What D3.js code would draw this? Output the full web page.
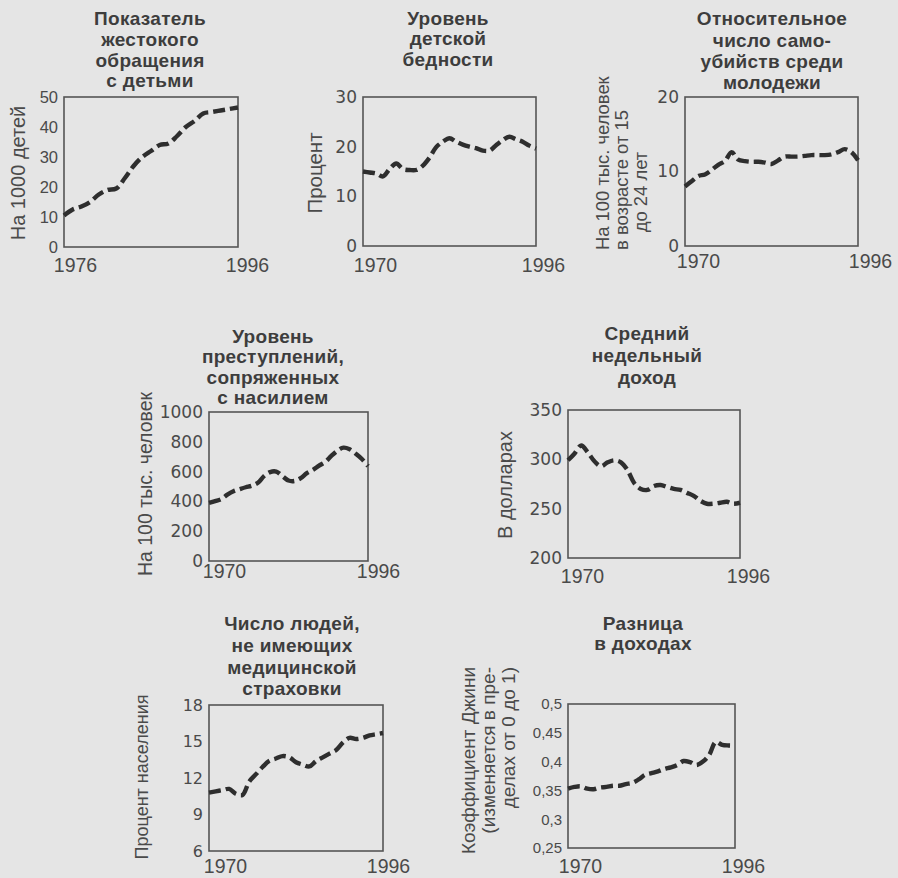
<!DOCTYPE html>
<html>
<head>
<meta charset="utf-8">
<script src="https://cdn.jsdelivr.net/npm/d3@7"></script>
<style>
  html, body { margin: 0; padding: 0; background: #e5e5e5; }
  svg { display: block; }
  text { font-family: "Liberation Sans", Arial, sans-serif; }
</style>
</head>
<body>
<svg id="chart" width="898" height="878"></svg>
<script>
// ---------- DATA ----------
const years70 = [1970,1971,1972,1973,1974,1975,1976,1977,1978,1979,1980,1981,1982,1983,1984,1985,1986,1987,1988,1989,1990,1991,1992,1993,1994,1995,1996];
const years76 = [1976,1977,1978,1979,1980,1981,1982,1983,1984,1985,1986,1987,1988,1989,1990,1991,1992,1993,1994,1995,1996];

const abuseRate   = [10.5,12.5,13.5,15,17.5,19,19.5,23,27,30,32,34,34.5,37,40,42,44.5,45,45.5,46,46.5];
const povertyRate = [15,14.8,14.6,14,15.5,16.6,15.5,15.3,15.3,16.2,17.8,19.9,21,21.7,21,20.4,20,19.7,19.2,19.2,20.3,21.3,22,21.5,21,20.2,19.6];
const suicideRate = [8,8.7,9.4,9.6,10.2,10.9,11.4,12.6,11.6,11.4,11.3,11.3,11.2,11,11.5,12,12,12,12.1,12.2,12.2,12.2,12.3,12.6,13,12.6,11.5];
const crimeRate   = [390,402,415,445,468,482,495,505,525,570,597,600,570,540,537,556,590,612,640,665,705,740,761,750,720,685,637];
const weeklyIncome= [299,306,314,307,298,293,297,299,297,289,276,270,269,273,274,272,270,269,266,263,258,255,255,256,257,255,256];
const uninsured   = [10.8,10.9,11.0,11.1,10.7,10.6,11.7,12.3,12.9,13.4,13.6,13.8,13.7,13.3,13.1,12.95,13.4,13.7,14.0,14.3,14.9,15.3,15.2,15.3,15.5,15.6,15.7];
const giniIndex   = [0.353,0.356,0.357,0.353,0.352,0.355,0.356,0.358,0.358,0.361,0.363,0.369,0.377,0.380,0.383,0.387,0.390,0.394,0.401,0.399,0.394,0.400,0.412,0.434,0.429,0.428,0.428];

const titles = [
  ["Показатель","жестокого","обращения","с детьми"],
  ["Уровень","детской","бедности"],
  ["Относительное","число само-","убийств среди","молодежи"],
  ["Уровень","преступлений,","сопряженных","с насилием"],
  ["Средний","недельный","доход"],
  ["Число людей,","не имеющих","медицинской","страховки"],
  ["Разница","в доходах"]
];
const yLabels = [
  ["На 1000 детей"],
  ["Процент"],
  ["На 100 тыс. человек","в возрасте от 15","до 24 лет"],
  ["На 100 тыс. человек"],
  ["В долларах"],
  ["Процент населения"],
  ["Коэффициент Джини","(изменяется в пре-","делах от 0 до 1)"]
];
const yTicks = [
  [0,10,20,30,40,50],
  [0,10,20,30],
  [0,10,20],
  [0,200,400,600,800,1000],
  [200,250,300,350],
  [6,9,12,15,18],
  [0.25,0.3,0.35,0.4,0.45,0.5]
];
const yDomains = [[0,50],[0,30],[0,20],[0,1000],[200,350],[6,18],[0.25,0.5]];
const seriesYears = [years76, years70, years70, years70, years70, years70, years70];
const seriesValues = [abuseRate, povertyRate, suicideRate, crimeRate, weeklyIncome, uninsured, giniIndex];

// ---------- LAYOUT ----------
// box: [left,right,top,bottom]; tcx/tcy: title centre; yl: rotated label [x,y,anchor];
// xl: [dx first, dx last, baseline]; tf: tick font [family,size]; lf: y-label font size
const layout = [
  {box:[64,238,97,247],  tcx:150, tcy:[18,39,60,80.5],  yl:[[18,173,"middle"]], xl:[11,9,271.5], tf:["Liberation Sans",16.5], lf:20},
  {box:[363,536,97,246], tcx:448, tcy:[18,38.5,59],     yl:[[315,173,"middle"]], xl:[12,7,271.5], tf:["DejaVu Sans",17], lf:20.5},
  {box:[685,858,97,246], tcx:772, tcy:[18,40,61.5,82],  yl:[[602,250,"start"],[621,250,"start"],[640,192,"middle"]], xl:[13,12,268], tf:["DejaVu Sans",17], lf:18.4},
  {box:[209,368,412,561],tcx:273, tcy:[336,356.5,377,397], yl:[[145,484,"middle"]], xl:[15,10,578], tf:["DejaVu Sans",17], lf:19.5},
  {box:[568,740,410,558],tcx:647, tcy:[333,355,377],    yl:[[505,485,"middle"]], xl:[14,8,583], tf:["DejaVu Sans",17], lf:20},
  {box:[209,383,705,851],tcx:292, tcy:[623,645,667,688],yl:[[142,777,"middle"]], xl:[16,5,873], tf:["DejaVu Sans",16], lf:18},
  {box:[568,735,704,848],tcx:643, tcy:[623,643],        yl:[[468,667,"end"],[488,667,"end"],[508,667,"end"]], xl:[12,8,873], tf:["Liberation Sans",15], lf:19}
];

const svg = d3.select("#chart");
const textColor = "#4a4a4a";
const fmt = d => String(d).replace(".", ",");

layout.forEach((L, i) => {
  const [x0, x1, y0, y1] = L.box;
  const yrs = seriesYears[i];
  const vals = seriesValues[i];
  const x = d3.scaleLinear().domain([yrs[0], yrs[yrs.length - 1]]).range([x0, x1]);
  const y = d3.scaleLinear().domain(yDomains[i]).range([y1, y0]);
  const g = svg.append("g");

  // title
  titles[i].forEach((t, k) => {
    g.append("text").attr("x", L.tcx).attr("y", L.tcy[k]).attr("dy", "0.36em")
      .attr("text-anchor", "middle").attr("font-size", 19).attr("font-weight", "bold")
      .attr("letter-spacing", 0.3)
      .attr("fill", "#3d3d3d").text(t);
  });

  // frame
  g.append("rect").attr("x", x0).attr("y", y0).attr("width", x1 - x0).attr("height", y1 - y0)
    .attr("fill", "none").attr("stroke", "#555").attr("stroke-width", 1.6);

  // y axis
  const ya = g.append("g").attr("transform", `translate(${x0},0)`)
    .call(d3.axisLeft(y).tickValues(yTicks[i]).tickSize(0).tickPadding(6).tickFormat(fmt));
  ya.select(".domain").remove();
  ya.selectAll("text").attr("font-size", L.tf[1]).attr("fill", textColor)
    .style("font-family", `'${L.tf[0]}', sans-serif`);

  // x axis labels (first and last year)
  const xa = g.append("g").attr("transform", `translate(0,${L.xl[2]})`)
    .call(d3.axisBottom(x).tickValues([yrs[0], yrs[yrs.length - 1]]).tickSize(0).tickPadding(0).tickFormat(d3.format("d")));
  xa.select(".domain").remove();
  xa.selectAll("text").attr("font-size", 19.5).attr("fill", textColor)
    .attr("y", 0).attr("dy", 0)
    .style("font-family", "'Liberation Sans', Arial, sans-serif")
    .attr("dx", (d, k) => k === 0 ? L.xl[0] : L.xl[1]);

  // y label
  yLabels[i].forEach((t, k) => {
    const [lx, ly, anc] = L.yl[k];
    g.append("text").attr("transform", `translate(${lx},${ly}) rotate(-90)`)
      .attr("dy", "0.36em").attr("text-anchor", anc).attr("font-size", L.lf)
      .attr("fill", textColor).text(t);
  });

  // line
  const line = d3.line().x((d, k) => x(yrs[k])).y(d => y(d)).curve(d3.curveCatmullRom.alpha(0.5));
  g.append("path").datum(vals).attr("d", line).attr("fill", "none")
    .attr("stroke", "#2e2e2e").attr("stroke-width", 4.4)
    .attr("stroke-dasharray", "12,5");
});
</script>
</body>
</html>
